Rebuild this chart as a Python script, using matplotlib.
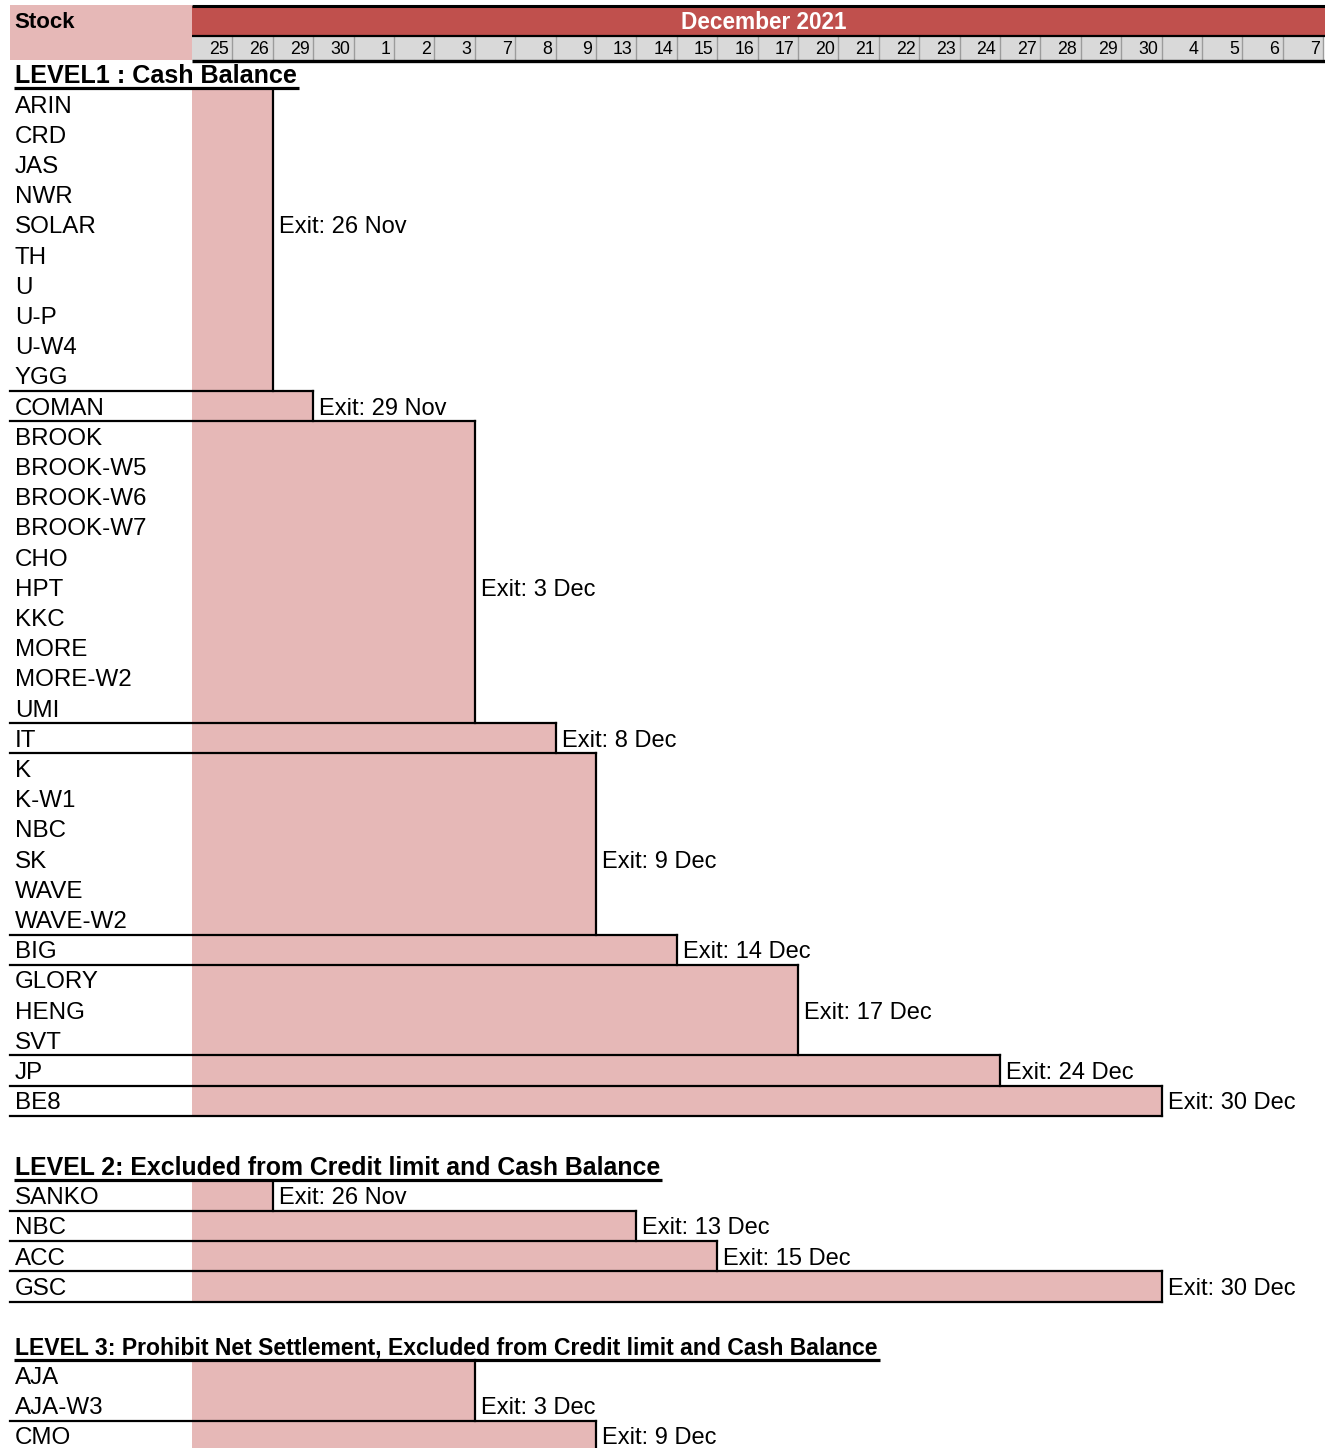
import matplotlib
matplotlib.use("Agg")
import matplotlib.pyplot as plt
from matplotlib.patches import Rectangle

plt.rcParams['font.family'] = ['Liberation Sans', 'DejaVu Sans']

# ---------------- data ----------------
date_days = ["25", "26", "29", "30", "1", "2", "3", "7", "8", "9", "13", "14", "15", "16",
             "17", "20", "21", "22", "23", "24", "27", "28", "29", "30", "4", "5", "6", "7"]
date_months = ["Nov"] * 4 + ["Dec"] * 20 + ["Jan"] * 4
header_month = "December 2021"
header_stock = "Stock"

level_titles = [
    "LEVEL1 : Cash Balance",
    "LEVEL 2: Excluded from Credit limit and Cash Balance",
    "LEVEL 3: Prohibit Net Settlement, Excluded from Credit limit and Cash Balance",
]

level1_groups = [
    ["ARIN", "CRD", "JAS", "NWR", "SOLAR", "TH", "U", "U-P", "U-W4", "YGG"],
    ["COMAN"],
    ["BROOK", "BROOK-W5", "BROOK-W6", "BROOK-W7", "CHO", "HPT", "KKC", "MORE", "MORE-W2", "UMI"],
    ["IT"],
    ["K", "K-W1", "NBC", "SK", "WAVE", "WAVE-W2"],
    ["BIG"],
    ["GLORY", "HENG", "SVT"],
    ["JP"],
    ["BE8"],
]
level1_exits = ["26 Nov", "29 Nov", "3 Dec", "8 Dec", "9 Dec", "14 Dec", "17 Dec", "24 Dec", "30 Dec"]
level1_label_rows = [4, 0, 5, 0, 3, 0, 1, 0, 0]

level2_groups = [["SANKO"], ["NBC"], ["ACC"], ["GSC"]]
level2_exits = ["26 Nov", "13 Dec", "15 Dec", "30 Dec"]
level2_label_rows = [0, 0, 0, 0]

level3_groups = [["AJA", "AJA-W3"], ["CMO"]]
level3_exits = ["3 Dec", "9 Dec"]
level3_label_rows = [1, 0]

levels = [
    (level1_groups, level1_exits, level1_label_rows),
    (level2_groups, level2_exits, level2_label_rows),
    (level3_groups, level3_exits, level3_label_rows),
]

# ---------------- layout ----------------
W, H = 1325, 1448
LEFT_PX, COL_PX, TOP_PX, ROW_PX = 192, 40.4, 89, 30.2
level_starts = [0.0, 36.15, 42.1]
title_sizes = [18.1, 17.9, 16.6]
TXT_DY = 0.08

PINK = "#E6B8B7"
RED = "#C0504D"
GRAY = "#D9D9D9"


def ry(px):
    return (px - TOP_PX) / ROW_PX


def cx(px):
    return (px - LEFT_PX) / COL_PX


fig = plt.figure(figsize=(W / 100, H / 100), dpi=100)
ax = fig.add_axes([0, 0, 1, 1])
ax.set_xlim(cx(0), cx(W))
ax.set_ylim(ry(H), ry(0))
ax.axis("off")

ncols = len(date_days)
x_left = cx(10)
x_text = cx(15)

# ---- header ----
ax.add_patch(Rectangle((x_left, ry(5)), 0 - x_left, ry(60) - ry(5), color=PINK, lw=0, zorder=1))
ax.text(cx(14), ry(22.5), header_stock, fontsize=16, fontweight="bold", ha="left", va="center", zorder=5)
ax.add_patch(Rectangle((0, ry(6)), cx(W), ry(36) - ry(6), color=RED, lw=0, zorder=1))
ax.text(cx(764), ry(22.5), header_month, fontsize=16.3, fontweight="bold", color="white",
        ha="center", va="center", zorder=5)
ax.add_patch(Rectangle((0, ry(36)), ncols, ry(60) - ry(36), color=GRAY, lw=0, zorder=1))
for i, d in enumerate(date_days):
    ax.text(i + 1 - 0.09, ry(49.5), d, fontsize=12.8, ha="right", va="center", zorder=5)
    ax.plot([i + 1, i + 1], [ry(37), ry(59)], color="#9C9C9C", lw=1.0, zorder=3)
ax.plot([0, cx(W)], [ry(5.5), ry(5.5)], color="black", lw=2.2, zorder=4, solid_capstyle="butt")
ax.plot([0, cx(W)], [ry(36), ry(36)], color="black", lw=1.6, zorder=4, solid_capstyle="butt")
ax.plot([0, cx(W)], [ry(60.5), ry(60.5)], color="black", lw=2.4, zorder=4, solid_capstyle="butt")

# ---- title texts ----
title_texts = []
for li, title in enumerate(level_titles):
    y0 = level_starts[li]
    t = ax.text(x_text, y0 - 0.50 + TXT_DY, title, fontsize=title_sizes[li], fontweight="bold",
                ha="left", va="center", zorder=5)
    title_texts.append((t, y0))


def exit_col(label):
    day, mon = label.split()
    for i, (d, m) in enumerate(zip(date_days, date_months)):
        if d == day and m == mon:
            return i + 1
    raise ValueError(label)


# ---- groups ----
for li, (groups, exits, lrows) in enumerate(levels):
    r = level_starts[li]
    prev_end = None
    end = 0
    for gi, (names, ex, lr) in enumerate(zip(groups, exits, lrows)):
        n = len(names)
        end = exit_col(ex)
        ax.add_patch(Rectangle((0, r), end, n, facecolor=PINK, lw=0, zorder=1))
        if gi > 0:
            ax.plot([x_left, max(end, prev_end)], [r, r], color="black", lw=1.6, zorder=4,
                    solid_capstyle="projecting")
        ax.plot([end, end], [r, r + n], color="black", lw=1.6, zorder=4, solid_capstyle="projecting")
        for k, nm in enumerate(names):
            ax.text(x_text, r + k + 0.5 + TXT_DY, nm, fontsize=17.4, ha="left", va="center", zorder=5)
        ax.text(end + 0.15, r + lr + 0.5 + TXT_DY, "Exit: " + ex, fontsize=17, ha="left",
                va="center", zorder=5)
        prev_end = end
        r += n
    ax.plot([x_left, end], [r, r], color="black", lw=1.6, zorder=4, solid_capstyle="projecting")

# ---- underline titles ----
fig.canvas.draw()
renderer = fig.canvas.get_renderer()
inv = ax.transData.inverted()
for t, y0 in title_texts:
    bb = t.get_window_extent(renderer)
    xb = inv.transform((bb.x1 + 2, bb.y0))[0]
    ax.plot([cx(14), xb], [y0 - 0.03, y0 - 0.03], color="black", lw=2.3, zorder=4,
            solid_capstyle="butt")

fig.savefig("out.png", dpi=100)
